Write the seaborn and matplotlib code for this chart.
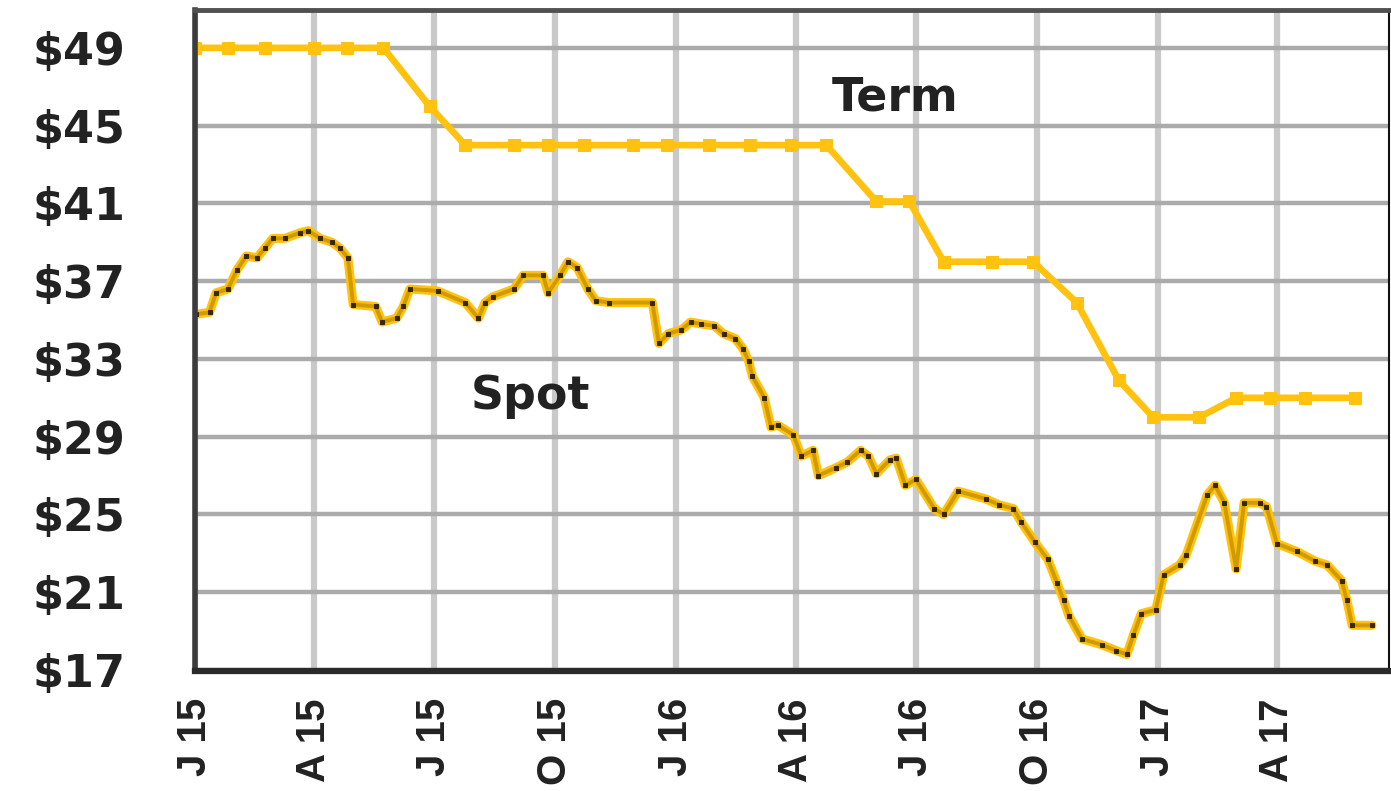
import numpy as np
import pandas as pd
import matplotlib
matplotlib.use("Agg")
import matplotlib.pyplot as plt
import matplotlib.dates as mdates
import seaborn as sns

# ---------------- data ----------------
term_dates = ["2015-01-01", "2015-01-26", "2015-02-23", "2015-04-01", "2015-04-26",
              "2015-05-24", "2015-06-28", "2015-07-25", "2015-08-31", "2015-09-26",
              "2015-10-23", "2015-11-29", "2015-12-25", "2016-01-26", "2016-02-26",
              "2016-03-28", "2016-04-24", "2016-06-01", "2016-06-26", "2016-07-22",
              "2016-08-28", "2016-09-28", "2016-10-31", "2016-12-02", "2016-12-28",
              "2017-02-01", "2017-03-01", "2017-03-27", "2017-04-22", "2017-05-30"]
term_values = [49, 49, 49, 49, 49,
               49, 46, 44, 44, 44,
               44, 44, 44, 44, 44,
               44, 44, 41.1, 41.1, 38,
               38, 38, 35.9, 31.9, 30,
               30, 31, 31, 31, 31]

spot_dates = ["2015-01-02", "2015-01-12", "2015-01-17", "2015-01-26", "2015-02-02",
              "2015-02-09", "2015-02-17", "2015-02-23", "2015-03-01", "2015-03-10",
              "2015-03-22", "2015-03-28", "2015-04-06", "2015-04-15", "2015-04-21",
              "2015-04-27", "2015-05-01", "2015-05-18", "2015-05-23", "2015-06-03",
              "2015-06-08", "2015-06-13", "2015-07-04", "2015-07-25", "2015-08-04",
              "2015-08-09", "2015-08-15", "2015-08-31", "2015-09-07", "2015-09-22",
              "2015-09-26", "2015-10-05", "2015-10-11", "2015-10-18", "2015-10-26",
              "2015-11-01", "2015-11-11", "2015-12-14", "2015-12-19", "2015-12-26",
              "2016-01-05", "2016-01-12", "2016-01-20", "2016-01-30", "2016-02-06",
              "2016-02-15", "2016-02-21", "2016-02-25", "2016-02-28", "2016-03-08",
              "2016-03-13", "2016-03-18", "2016-03-30", "2016-04-05", "2016-04-14",
              "2016-04-18", "2016-05-01", "2016-05-10", "2016-05-20", "2016-05-26",
              "2016-06-01", "2016-06-11", "2016-06-16", "2016-06-23", "2016-07-01",
              "2016-07-15", "2016-07-22", "2016-08-02", "2016-08-23", "2016-09-02",
              "2016-09-13", "2016-09-19", "2016-09-29", "2016-10-09", "2016-10-16",
              "2016-10-21", "2016-10-25", "2016-11-04", "2016-11-19", "2016-11-30",
              "2016-12-08", "2016-12-13", "2016-12-19", "2016-12-30", "2017-01-05",
              "2017-01-17", "2017-01-22", "2017-02-07", "2017-02-13", "2017-02-20",
              "2017-03-01", "2017-03-07", "2017-03-19", "2017-03-24", "2017-04-01",
              "2017-04-16", "2017-04-30", "2017-05-09", "2017-05-20", "2017-05-24",
              "2017-05-28", "2017-06-12"]
spot_values = [35.3, 35.4, 36.4, 36.6, 37.6,
               38.3, 38.2, 38.7, 39.2, 39.2,
               39.5, 39.6, 39.2, 39.0, 38.7,
               38.2, 35.8, 35.7, 34.9, 35.1,
               35.7, 36.6, 36.5, 35.9, 35.1,
               35.9, 36.2, 36.6, 37.3, 37.3,
               36.4, 37.3, 38.0, 37.7, 36.6,
               36.0, 35.9, 35.9, 33.8, 34.3,
               34.5, 34.9, 34.8, 34.7, 34.3,
               34.05, 33.5, 32.9, 32.1, 31.0,
               29.5, 29.6, 29.1, 28.0, 28.3,
               27.0, 27.4, 27.7, 28.3, 28.0,
               27.1, 27.8, 27.9, 26.5, 26.8,
               25.3, 25.0, 26.2, 25.8, 25.5,
               25.3, 24.6, 23.6, 22.7, 21.5,
               20.6, 19.8, 18.6, 18.3, 18.0,
               17.8, 18.8, 19.9, 20.1, 21.9,
               22.4, 22.9, 26.0, 26.5, 25.6,
               22.2, 25.6, 25.6, 25.4, 23.5,
               23.1, 22.6, 22.4, 21.6, 20.6,
               19.3, 19.3]

quarter_ticks = ["2015-01-01", "2015-04-01", "2015-07-01", "2015-10-01", "2016-01-01",
                 "2016-04-01", "2016-07-01", "2016-10-01", "2017-01-01", "2017-04-01"]
quarter_labels = ["J 15", "A 15", "J 15", "O 15", "J 16",
                  "A 16", "J 16", "O 16", "J 17", "A 17"]
y_ticks = [17, 21, 25, 29, 33, 37, 41, 45, 49]
series_names = ["Term", "Spot"]

# ---------------- style ----------------
sns.set_style("white")
plt.rcParams['font.family'] = ['DejaVu Sans']

YELLOW = "#FFC20E"
DARK_GOLD = "#D09A00"
TEXT = "#222222"

fig = plt.figure(figsize=(13.91, 7.91), dpi=100)
ax = fig.add_axes([0.1402, 0.1517, 0.8584, 0.8357])

term_df = pd.DataFrame({"date": pd.to_datetime(term_dates), "value": term_values})
spot_df = pd.DataFrame({"date": pd.to_datetime(spot_dates), "value": spot_values})

sns.lineplot(data=term_df, x="date", y="value", ax=ax, color=YELLOW, linewidth=4.8,
             marker="s", markersize=8, markeredgecolor=YELLOW, zorder=3)
sns.lineplot(data=spot_df, x="date", y="value", ax=ax, color=YELLOW, linewidth=6.5,
             zorder=3)
sns.lineplot(data=spot_df, x="date", y="value", ax=ax, color=DARK_GOLD, linewidth=2.8,
             marker="s", markersize=2.4, markeredgecolor="#3a2800",
             markerfacecolor="#3a2800", zorder=4)

ax.set_xlim(pd.Timestamp("2015-01-01"), pd.Timestamp("2017-06-25"))
ax.set_ylim(16.95, 50.95)

# grid / ticks
ax.set_axisbelow(True)
ax.set_xticks(pd.to_datetime(quarter_ticks))
ax.set_xticklabels(quarter_labels, rotation=90)
ax.xaxis.set_minor_locator(mdates.MonthLocator())
ax.set_yticks(y_ticks)
ax.set_yticklabels(["\\$%d" % v for v in y_ticks])
ax.xaxis.grid(True, which="major", color="#c9c9c9", linewidth=4.5)
ax.yaxis.grid(True, which="major", color="#ababab", linewidth=3.2)

ax.set_xlabel("")
ax.set_ylabel("")

ax.tick_params(axis="y", which="major", direction="out", length=14, width=3,
               color="#bdbdbd", pad=36, labelsize=32, labelcolor=TEXT)
ax.tick_params(axis="x", which="major", direction="inout", length=19, width=2.5,
               color="#111111", pad=10, labelsize=29, labelcolor=TEXT)
ax.tick_params(axis="x", which="minor", direction="out", length=8, width=2.5,
               color="#222222")
for lab in ax.get_yticklabels():
    lab.set_fontweight("bold")
for lab in ax.get_xticklabels():
    lab.set_fontweight("bold")
    lab.set_family(["Liberation Sans", "DejaVu Sans"])

# spines
ax.spines["left"].set_linewidth(4)
ax.spines["left"].set_color("#3c3c3c")
ax.spines["bottom"].set_linewidth(4.5)
ax.spines["bottom"].set_color("#2a2a2a")
ax.spines["top"].set_linewidth(3.5)
ax.spines["top"].set_color("#505050")
ax.spines["right"].set_linewidth(1.5)
ax.spines["right"].set_color("#111111")
for s in ax.spines.values():
    s.set_zorder(5)

# series labels
ax.text(0.586, 0.867, series_names[0], transform=ax.transAxes, ha="center", va="center",
        fontsize=33, fontweight="bold", color=TEXT)
ax.text(0.281, 0.415, series_names[1], transform=ax.transAxes, ha="center", va="center",
        fontsize=33, fontweight="bold", color=TEXT)

fig.savefig("out.png", dpi=100)
